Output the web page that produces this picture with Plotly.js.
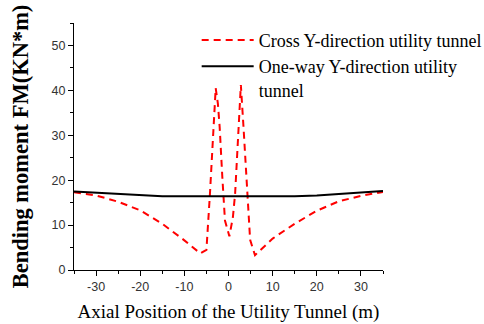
<!DOCTYPE html>
<html>
<head>
<meta charset="utf-8">
<script src="https://cdn.plot.ly/plotly-3.0.1.min.js"></script>
<style>html,body{margin:0;padding:0;background:#fff;}#chart{width:484px;height:324px;}</style>
</head>
<body>
<div id="chart"></div>
<script>
// Cross Y-direction utility tunnel (red dashed)
const crossX = [-35, -30, -25, -20, -15, -10, -6.4, -5, -4.2, -3.6, -3.2, -2.9, -2.4, -2.0, -1.4, -0.8, 0.2, 1.0, 1.5, 2.3, 2.8, 3.4, 4.2, 4.9, 6.0, 10, 15, 20, 25, 30, 35];
const crossY = [17.3, 16.6, 15.2, 13.3, 10.3, 6.6, 3.7, 4.5, 17, 27.4, 37, 40.5, 37, 31.8, 20.7, 11, 7.5, 11.8, 17, 31.8, 41.2, 31.8, 17, 6.7, 3.3, 7, 10.3, 13.2, 15.3, 16.5, 17.4];
// One-way Y-direction utility tunnel (black solid)
const oneWayX = [-35, -30, -25, -20, -15, -10, -5, 0, 5, 10, 15, 20, 25, 30, 35];
const oneWayY = [17.5, 17.2, 16.9, 16.6, 16.4, 16.4, 16.4, 16.4, 16.4, 16.4, 16.4, 16.6, 16.9, 17.2, 17.6];

const xTicks = [-30, -20, -10, 0, 10, 20, 30];
const yTicks = [0, 10, 20, 30, 40, 50];

const traces = [
  {x: crossX, y: crossY, mode: 'lines', name: 'Cross Y-direction utility tunnel',
   line: {color: '#ff0000', width: 2, dash: '7px,5px'}},
  {x: oneWayX, y: oneWayY, mode: 'lines', name: 'One-way Y-direction utility<br>tunnel',
   line: {color: '#000000', width: 2}}
];

const tickFont = {family: 'Liberation Sans, Arial, sans-serif', size: 12.5, color: '#333'};

const layout = {
  width: 484, height: 324,
  paper_bgcolor: '#fff', plot_bgcolor: '#fff',
  margin: {l: 74, r: 101, t: 23, b: 54, autoexpand: false},
  showlegend: true,
  legend: {x: 0.397, y: 1.005, xanchor: 'left', yanchor: 'top', bgcolor: 'rgba(0,0,0,0)',
           font: {family: 'Liberation Serif, Times New Roman, serif', size: 18, color: '#000'},
           itemwidth: 52, valign: 'top', tracegroupgap: 0},
  xaxis: {
    range: [-35, 35], tickvals: xTicks, ticktext: xTicks.map(String),
    showgrid: false, zeroline: false, showline: true, linecolor: '#000', linewidth: 1,
    ticks: 'outside', ticklen: 5, tickcolor: '#000', tickfont: tickFont,
    minor: {dtick: 5, tick0: 0, ticks: 'outside', ticklen: 3, tickcolor: '#000', showgrid: false},
    title: {text: 'Axial Position of the Utility Tunnel (m)', standoff: 11,
            font: {family: 'Liberation Serif, Times New Roman, serif', size: 19, color: '#000'}}
  },
  yaxis: {
    range: [0, 55], tickvals: yTicks, ticktext: yTicks.map(String),
    showgrid: false, zeroline: false, showline: true, linecolor: '#000', linewidth: 1,
    ticks: 'outside', ticklen: 5, tickcolor: '#000', tickfont: tickFont,
    minor: {dtick: 5, tick0: 0, ticks: 'outside', ticklen: 3, tickcolor: '#000', showgrid: false},
    title: {text: '<b>Bending moment FM(KN*m)</b>', standoff: 16,
            font: {family: 'Liberation Serif, Times New Roman, serif', size: 22.5, color: '#000'}}
  }
};

Plotly.newPlot('chart', traces, layout, {displayModeBar: false, staticPlot: true});
</script>
</body>
</html>
